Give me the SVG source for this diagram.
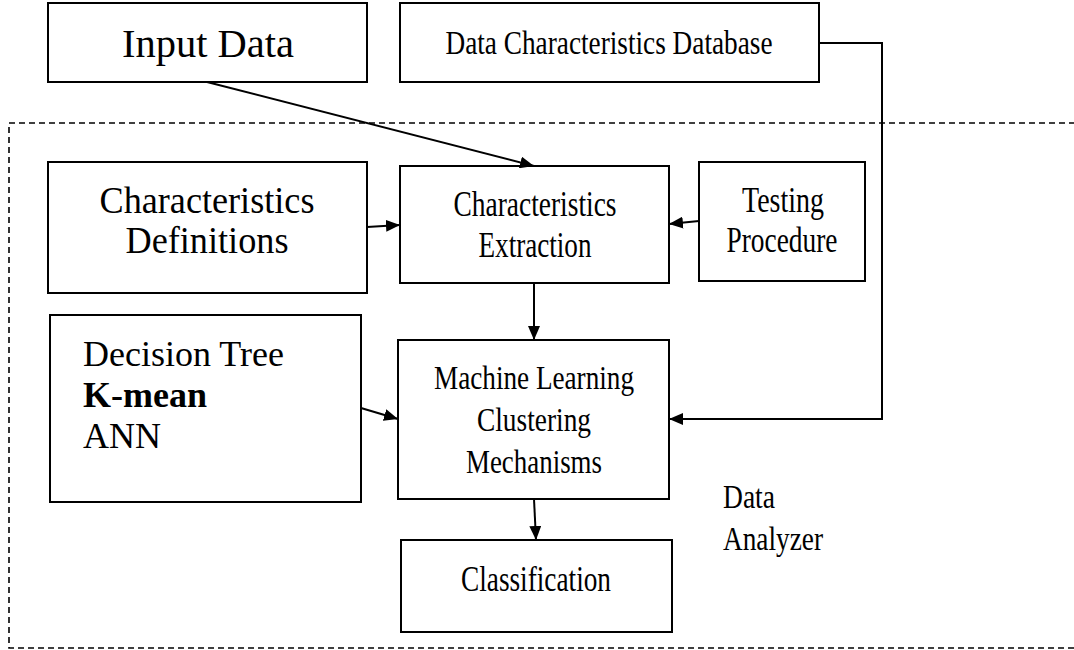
<svg xmlns="http://www.w3.org/2000/svg" width="1074" height="650" viewBox="0 0 1074 650">
  <style>
    .box { fill: #fff; stroke: #000; stroke-width: 2; }
    .mid { text-anchor: middle; }
    .wire { fill: none; stroke: #000; stroke-width: 2; }
    .frame { fill: none; stroke: #000; stroke-width: 1.6; stroke-dasharray: 6 4; }
  </style>
  <defs>
    <marker id="arrow" markerUnits="userSpaceOnUse" markerWidth="14" markerHeight="12" refX="14" refY="6" orient="auto">
      <path d="M0,0 L14,6 L0,12 z" fill="#000"/>
    </marker>
  </defs>
  <rect width="1074" height="650" fill="#fff"/>

  <!-- Data Analyzer boundary -->
  <rect class="frame" x="9" y="123" width="1080" height="525"/>

  <g id="input-data">
    <rect class="box" x="48" y="3" width="319" height="79"/>
    <text class="mid" font-family="Liberation Serif" x="208" y="57" font-size="40" textLength="172" lengthAdjust="spacingAndGlyphs">Input Data</text>
  </g>

  <g id="data-characteristics-database">
    <rect class="box" x="400" y="3" width="419" height="79"/>
    <text class="mid" font-family="Liberation Serif" x="609" y="54" font-size="33" textLength="327" lengthAdjust="spacingAndGlyphs">Data Characteristics Database</text>
  </g>

  <g id="characteristics-definitions">
    <rect class="box" x="48" y="162" width="319" height="131"/>
    <text class="mid" font-family="Liberation Serif" x="207" y="213" font-size="37" textLength="215" lengthAdjust="spacingAndGlyphs">Characteristics</text>
    <text class="mid" font-family="Liberation Serif" x="207" y="253" font-size="37" textLength="163" lengthAdjust="spacingAndGlyphs">Definitions</text>
  </g>

  <g id="characteristics-extraction">
    <rect class="box" x="400" y="166" width="269" height="117"/>
    <text class="mid" font-family="Liberation Serif" x="535" y="216" font-size="35" textLength="163" lengthAdjust="spacingAndGlyphs">Characteristics</text>
    <text class="mid" font-family="Liberation Serif" x="535" y="257" font-size="35" textLength="113" lengthAdjust="spacingAndGlyphs">Extraction</text>
  </g>

  <g id="testing-procedure">
    <rect class="box" x="699" y="162" width="166" height="119"/>
    <text class="mid" font-family="Liberation Serif" x="783" y="212" font-size="36" textLength="82" lengthAdjust="spacingAndGlyphs">Testing</text>
    <text class="mid" font-family="Liberation Serif" x="782" y="252" font-size="36" textLength="111" lengthAdjust="spacingAndGlyphs">Procedure</text>
  </g>

  <g id="algorithms">
    <rect class="box" x="50" y="315" width="311" height="187"/>
    <text font-family="Liberation Serif" x="83" y="366" font-size="36">Decision Tree</text>
    <text font-family="Liberation Serif" x="83" y="407" font-size="36" font-weight="bold">K-mean</text>
    <text font-family="Liberation Serif" x="83" y="448" font-size="36">ANN</text>
  </g>

  <g id="machine-learning-clustering">
    <rect class="box" x="398" y="340" width="271" height="159"/>
    <text class="mid" font-family="Liberation Serif" x="534" y="389" font-size="34" textLength="200" lengthAdjust="spacingAndGlyphs">Machine Learning</text>
    <text class="mid" font-family="Liberation Serif" x="534" y="431" font-size="34" textLength="114" lengthAdjust="spacingAndGlyphs">Clustering</text>
    <text class="mid" font-family="Liberation Serif" x="534" y="473" font-size="34" textLength="136" lengthAdjust="spacingAndGlyphs">Mechanisms</text>
  </g>

  <g id="classification">
    <rect class="box" x="401" y="540" width="271" height="92"/>
    <text class="mid" font-family="Liberation Serif" x="536" y="591" font-size="36" textLength="150" lengthAdjust="spacingAndGlyphs">Classification</text>
  </g>

  <g id="data-analyzer-label">
    <text font-family="Liberation Serif" x="723" y="508" font-size="34" textLength="52" lengthAdjust="spacingAndGlyphs">Data</text>
    <text font-family="Liberation Serif" x="723" y="550" font-size="34" textLength="100" lengthAdjust="spacingAndGlyphs">Analyzer</text>
  </g>

  <g id="connectors">
    <line class="wire" x1="207" y1="82" x2="534" y2="166" marker-end="url(#arrow)"/>
    <line class="wire" x1="367" y1="227" x2="400" y2="225" marker-end="url(#arrow)"/>
    <line class="wire" x1="699" y1="221" x2="669" y2="224" marker-end="url(#arrow)"/>
    <line class="wire" x1="534" y1="283" x2="534" y2="340" marker-end="url(#arrow)"/>
    <line class="wire" x1="361" y1="408" x2="398" y2="419" marker-end="url(#arrow)"/>
    <line class="wire" x1="534" y1="499" x2="536" y2="540" marker-end="url(#arrow)"/>
    <polyline class="wire" points="819,43 882,43 882,419 669,419" marker-end="url(#arrow)"/>
  </g>
</svg>
